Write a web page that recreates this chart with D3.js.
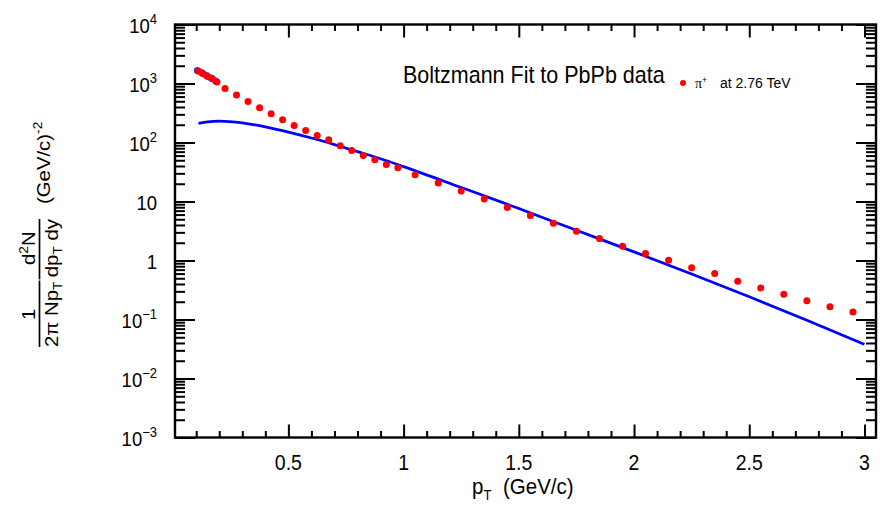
<!DOCTYPE html>
<html><head><meta charset="utf-8">
<script src="https://cdn.jsdelivr.net/npm/d3@7"></script>
<style>
body{margin:0;background:#fff}
svg{display:block}
text{font-family:"Liberation Sans",Arial,Helvetica,sans-serif;fill:#000}
</style>
</head><body>
<svg id="c" width="880" height="508"></svg>
<script>
// ---------------- data ----------------
const pt = [0.11,0.13,0.15,0.17,0.19,0.225,0.275,0.325,0.375,0.425,0.475,0.525,0.575,0.625,0.675,0.725,0.775,0.825,0.875,0.925,0.975,
            1.05,1.15,1.25,1.35,1.45,1.55,1.65,1.75,1.85,1.95,2.05,2.15,2.25,2.35,2.45,2.55,2.65,2.75,2.85,2.95];
const yieldPi = [1610,1470,1320,1200,1065,820,640,495,390,308,244,195,160,132,111,88,73,60,51,42.5,37.3,
                 28.4,20.5,15.0,11.0,7.9,5.78,4.30,3.14,2.35,1.75,1.31,1.01,0.757,0.600,0.446,0.343,0.268,0.208,0.165,0.134];
const fitPt  = [0.11,0.15,0.2,0.3,0.4,0.5,0.6,0.7,0.8,0.9,1.0,1.25,1.5,1.75,2.0,2.25,2.5,2.75,3.0];
const fitVal = [211,224,230,215,184,150,119,92,70,53,39,17.3,7.6,3.25,1.40,0.59,0.243,0.097,0.038];
const xMajor = [0.5,1,1.5,2,2.5,3];
const xTickLabels = ["0.5","1","1.5","2","2.5","3"];
const yExps = [-3,-2,-1,0,1,2,3,4];
const titleText = "Boltzmann Fit to PbPb data";
const legendParticle = "\u03c0";
const legendCharge = "+";
const legendText = "at 2.76 TeV";
const xTitleMain = "p", xTitleSub = "T", xTitleUnit = "(GeV/c)";

// ---------------- layout ----------------
const L = 175, R = 876, T = 24.5, B = 437.5;
const SY = 1.1;
const x = d3.scaleLinear().domain([0.008, 3.05]).range([L, R]);
const y = d3.scaleLog().domain([1e-3, 1e4]).range([B, T]);
const svg = d3.select("#c");

function stext(g, px, py, size, anchor) {
  return g.append("text")
    .attr("transform", `translate(${px},${py}) scale(1,${SY})`)
    .attr("font-size", size)
    .attr("text-anchor", anchor || "start");
}

// ---------------- ticks ----------------
const xMinor = d3.range(1, 31).map(i => i / 10).filter(v => !xMajor.some(m => Math.abs(m - v) < 1e-9));
const yMajor = yExps.map(e => Math.pow(10, e));
const yMinor = [];
yExps.slice(0, -1).forEach(e => { for (let k = 2; k <= 9; k++) yMinor.push(k * Math.pow(10, e)); });

function styleAxis(g) {
  g.selectAll("path.domain").remove();
  g.selectAll("line").attr("stroke", "#000").attr("stroke-width", 2);
  g.selectAll("text").remove();
}
svg.append("g").attr("transform", `translate(0,${B})`).call(d3.axisTop(x).tickValues(xMajor).tickSize(13).tickFormat("")).call(styleAxis);
svg.append("g").attr("transform", `translate(0,${B})`).call(d3.axisTop(x).tickValues(xMinor).tickSize(6.5).tickFormat("")).call(styleAxis);
svg.append("g").attr("transform", `translate(0,${T})`).call(d3.axisBottom(x).tickValues(xMajor).tickSize(13).tickFormat("")).call(styleAxis);
svg.append("g").attr("transform", `translate(0,${T})`).call(d3.axisBottom(x).tickValues(xMinor).tickSize(6.5).tickFormat("")).call(styleAxis);
svg.append("g").attr("transform", `translate(${L},0)`).call(d3.axisRight(y).tickValues(yMajor).tickSize(20).tickFormat("")).call(styleAxis);
svg.append("g").attr("transform", `translate(${L},0)`).call(d3.axisRight(y).tickValues(yMinor).tickSize(10).tickFormat("")).call(styleAxis);
svg.append("g").attr("transform", `translate(${R},0)`).call(d3.axisLeft(y).tickValues(yMajor).tickSize(20).tickFormat("")).call(styleAxis);
svg.append("g").attr("transform", `translate(${R},0)`).call(d3.axisLeft(y).tickValues(yMinor).tickSize(10).tickFormat("")).call(styleAxis);

svg.append("rect").attr("x", L).attr("y", T).attr("width", R - L).attr("height", B - T)
  .attr("fill", "none").attr("stroke", "#000").attr("stroke-width", 2.4);

// ---------------- tick labels ----------------
xMajor.forEach((v, i) => stext(svg, x(v), 470, 19.5, "middle").text(xTickLabels[i]));

yExps.forEach(e => {
  const t = stext(svg, 157, y(Math.pow(10, e)) + 8.3, 18.5, "end");
  if (e === 0) t.text("1");
  else if (e === 1) t.text("10");
  else {
    t.append("tspan").text("10");
    t.append("tspan").attr("font-size", 13).attr("dy", -8).text(e < 0 ? "\u2212" + (-e) : String(e));
  }
});

// ---------------- fit curve ----------------
svg.append("path")
  .datum(fitPt.map((p, i) => [p, fitVal[i]]))
  .attr("d", d3.line().x(d => x(d[0])).y(d => y(d[1])).curve(d3.curveMonotoneX))
  .attr("fill", "none").attr("stroke", "#0000ff").attr("stroke-width", 2.7);

// ---------------- data points ----------------
const pts = pt.map((p, i) => [p, yieldPi[i]]);
svg.append("g").selectAll("circle").data(pts.filter(d => d[0] < 0.2)).join("circle")
  .attr("cx", d => x(d[0]) - 1.2).attr("cy", d => y(d[1]) - 0.8).attr("r", 3.5).attr("fill", "#3030ff");
svg.append("g").selectAll("circle").data(pts).join("circle")
  .attr("cx", d => x(d[0])).attr("cy", d => y(d[1])).attr("r", 3.5).attr("fill", "#ff0000");

// ---------------- title & legend ----------------
stext(svg, 403, 83.3, 21.5).text(titleText);
svg.append("circle").attr("cx", 683).attr("cy", 83).attr("r", 3).attr("fill", "#ff0000");
const lp = stext(svg, 695, 88, 14);
lp.append("tspan").attr("font-family", "'Liberation Serif','DejaVu Serif',serif").text(legendParticle);
lp.append("tspan").attr("font-size", 8.5).attr("dy", -5).text(legendCharge);
stext(svg, 720, 88, 14).text(legendText);

// ---------------- x title ----------------
const xt = stext(svg, 472, 494, 20.5);
xt.append("tspan").text(xTitleMain);
xt.append("tspan").attr("font-size", 13).attr("dy", 5).text(xTitleSub);
stext(svg, 503, 494, 20.5).text(xTitleUnit);

// ---------------- y title ----------------
const gY = svg.append("g").attr("transform", "translate(0,347) rotate(-90) scale(1.1,1)");
const fs = 18.5, vDen = 58, vNum = 35, vBar = 39.5;
const d1 = gY.append("text").attr("x", 0).attr("y", vDen).attr("font-size", fs);
d1.append("tspan").text("2\u03c0 Np");
d1.append("tspan").attr("font-size", 12.5).attr("dy", 4).text("T");
const w1 = d1.node().getComputedTextLength();
const gap = 4;
const d2 = gY.append("text").attr("x", w1 + gap).attr("y", vDen).attr("font-size", fs);
d2.append("tspan").text("dp");
d2.append("tspan").attr("font-size", 12.5).attr("dy", 4).text("T");
d2.append("tspan").attr("dy", -4).text(" dy");
const w2 = d2.node().getComputedTextLength();
gY.append("line").attr("x1", 0).attr("x2", w1 + 1).attr("y1", vBar).attr("y2", vBar).attr("stroke", "#000").attr("stroke-width", 1.7);
gY.append("line").attr("x1", w1 + 2).attr("x2", w1 + gap + w2).attr("y1", vBar).attr("y2", vBar).attr("stroke", "#000").attr("stroke-width", 1.7);
gY.append("text").attr("x", w1 / 2).attr("y", vNum).attr("font-size", fs).attr("text-anchor", "middle").text("1");
const nn = gY.append("text").attr("x", w1 + gap + w2 / 2).attr("y", vNum).attr("font-size", fs).attr("text-anchor", "middle");
nn.append("tspan").text("d");
nn.append("tspan").attr("font-size", 12.5).attr("dy", -7).text("2");
nn.append("tspan").attr("dy", 7).text("N");
const un = gY.append("text").attr("x", 130).attr("y", 50).attr("font-size", fs);
un.append("tspan").text("(GeV/c)");
un.append("tspan").attr("font-size", 12.5).attr("dy", -8).text("-2");
</script>
</body></html>
